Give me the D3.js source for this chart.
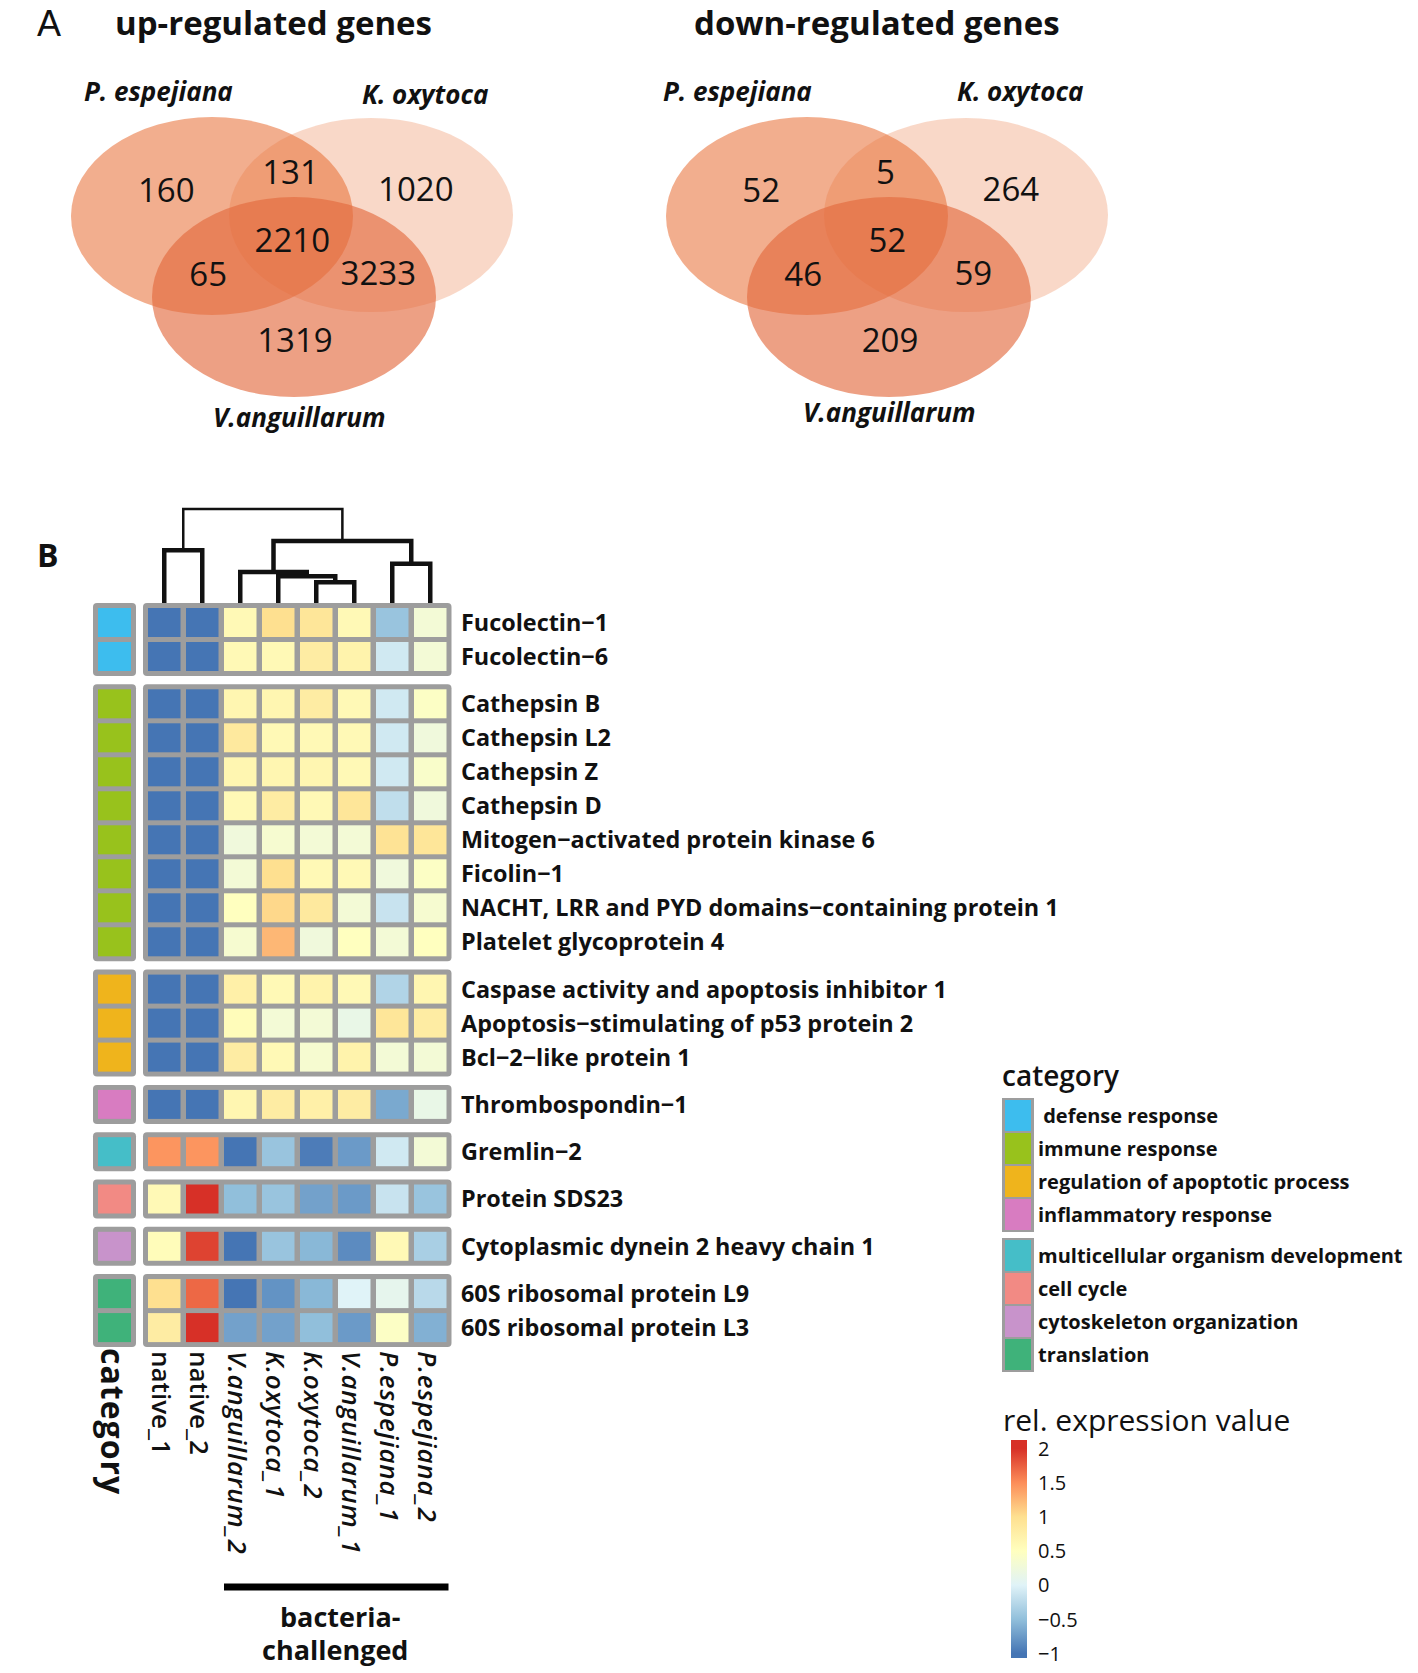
<!DOCTYPE html>
<html>
<head>
<meta charset="utf-8">
<script src="https://cdn.jsdelivr.net/npm/d3@7"></script>
<style>
  body { margin: 0; background: #fff; }
  text { font-family: "Open Sans", "Noto Sans", sans-serif; fill: #111; }
</style>
</head>
<body>
<svg id="fig" width="1418" height="1673"></svg>
<script>
// ---------- panel A : Venn counts ----------
const vennSets = ["P. espejiana", "K. oxytoca", "V.anguillarum"];
// region membership [P, K, V]
const vennRegions = [[1,0,0], [1,1,0], [0,1,0], [1,1,1], [1,0,1], [0,1,1], [0,0,1]];
const upCounts   = [160, 131, 1020, 2210, 65, 3233, 1319];
const downCounts = [52, 5, 264, 52, 46, 59, 209];

// ---------- panel B : heatmap ----------
const samples = ["native_1", "native_2", "V.anguillarum_2", "K.oxytoca_1", "K.oxytoca_2",
                 "V.anguillarum_1", "P.espejiana_1", "P.espejiana_2"];
const sampleItalic = [false, false, true, true, true, true, true, true];

const genes = [
  "Fucolectin\u22121", "Fucolectin\u22126",
  "Cathepsin B", "Cathepsin L2", "Cathepsin Z", "Cathepsin D",
  "Mitogen\u2212activated protein kinase 6", "Ficolin\u22121",
  "NACHT, LRR and PYD domains\u2212containing protein 1", "Platelet glycoprotein 4",
  "Caspase activity and apoptosis inhibitor 1", "Apoptosis\u2212stimulating of p53 protein 2",
  "Bcl\u22122\u2212like protein 1",
  "Thrombospondin\u22121", "Gremlin\u22122", "Protein SDS23",
  "Cytoplasmic dynein 2 heavy chain 1",
  "60S ribosomal protein L9", "60S ribosomal protein L3"
];
const geneCategory = [0, 0, 1, 1, 1, 1, 1, 1, 1, 1, 2, 2, 2, 3, 4, 5, 6, 7, 7];

const categories = [" defense response", "immune response", "regulation of apoptotic process",
  "inflammatory response", "multicellular organism development", "cell cycle",
  "cytoskeleton organization", "translation"];
const categoryColors = ["#3dbdee", "#98c21c", "#efb41c", "#d87cc1", "#45bec8", "#f28a84", "#c893cb", "#3fb27a"];
const legendBlock = [0, 0, 0, 0, 1, 1, 1, 1];

// relative expression, rows = genes, columns = samples
const expr = [
  [-1, -1, 0.60, 1.00, 0.90, 0.60, -0.45, 0.30],
  [-1, -1, 0.60, 0.60, 0.80, 0.70, -0.10, 0.30],
  [-1, -1, 0.65, 0.65, 0.80, 0.60, -0.10, 0.45],
  [-1, -1, 0.85, 0.60, 0.60, 0.60, -0.10, 0.25],
  [-1, -1, 0.65, 0.65, 0.65, 0.60, -0.10, 0.40],
  [-1, -1, 0.60, 0.80, 0.60, 0.90, -0.20, 0.25],
  [-1, -1, 0.25, 0.35, 0.30, 0.30, 0.95, 0.90],
  [-1, -1, 0.30, 1.00, 0.60, 0.60, 0.25, 0.45],
  [-1, -1, 0.50, 1.05, 0.85, 0.30, -0.15, 0.35],
  [-1, -1, 0.35, 1.25, 0.25, 0.50, 0.30, 0.50],
  [-1, -1, 0.75, 0.60, 0.70, 0.60, -0.30, 0.65],
  [-1, -1, 0.55, 0.30, 0.30, 0.15, 0.90, 0.80],
  [-1, -1, 0.80, 0.60, 0.35, 0.70, 0.30, 0.30],
  [-1, -1, 0.65, 0.80, 0.75, 0.80, -0.65, 0.15],
  [1.45, 1.45, -1, -0.45, -0.95, -0.75, -0.10, 0.30],
  [0.60, 2.00, -0.50, -0.45, -0.70, -0.75, -0.15, -0.45],
  [0.55, 1.90, -1, -0.45, -0.55, -0.85, 0.60, -0.35],
  [1.00, 1.70, -1, -0.80, -0.55, 0.00, 0.10, -0.25],
  [0.80, 2.00, -0.70, -0.70, -0.50, -0.75, 0.45, -0.60]
];

// column dendrogram, hclust style: negative = sample, positive = earlier merge
const mergePairs   = [[-5, -6], [-4, 1], [-3, 2], [-7, -8], [-1, -2], [3, 4], [5, 6]];
const mergeHeights = [2.0, 2.6, 3.0, 3.8, 5.1, 6.0, 9.1];

const paletteValues = [-1, -0.5, 0, 0.5, 1, 1.5, 2];
const paletteColors = ["#4575b4", "#91bfdb", "#e0f3f8", "#ffffbf", "#fee090", "#fc8d59", "#d73027"];
const legendTicks = [2, 1.5, 1, 0.5, 0, -0.5, -1];

// ====================================================
const svg = d3.select("#fig");
svg.append("rect").attr("width", 1418).attr("height", 1673).attr("fill", "#fff");

// ---------- Venn diagrams ----------
svg.append("text").attr("x", 37).attr("y", 36)
  .style("font-family", "'Liberation Sans', sans-serif")
  .style("font-size", "36px").text("A");

function drawVenn(cx0, counts, title, titleX, labelPos) {
  const g = svg.append("g");
  const ells = [
    { cx: cx0 - 82, cy: 216, rx: 141, ry: 99,  fill: "#e86e35", op: 0.56 },
    { cx: cx0 + 77, cy: 215, rx: 142, ry: 97,  fill: "#e86e35", op: 0.27 },
    { cx: cx0,      cy: 297, rx: 142, ry: 100, fill: "#e2683c", op: 0.63 }
  ];
  g.selectAll("ellipse").data(ells).enter().append("ellipse")
    .attr("cx", d => d.cx).attr("cy", d => d.cy)
    .attr("rx", d => d.rx).attr("ry", d => d.ry)
    .attr("fill", d => d.fill).attr("fill-opacity", d => d.op);

  // label each region: mean of member centres pushed away from the others
  g.selectAll("text.count").data(vennRegions).enter().append("text")
    .attr("class", "count")
    .attr("x", m => regionPos(ells, m)[0])
    .attr("y", m => regionPos(ells, m)[1] - 3)
    .attr("dy", "0.36em")
    .attr("text-anchor", "middle")
    .style("font-size", "33px")
    .text((m, i) => counts[i]);

  g.append("text").attr("x", titleX).attr("y", 35)
    .style("font-size", "33px").style("font-weight", 700).text(title);

  vennSets.forEach((s, i) => {
    g.append("text").attr("x", labelPos[i][0]).attr("y", labelPos[i][1])
      .style("font-size", "26px").style("font-weight", 700).style("font-style", "italic")
      .text(s);
  });
}

function regionPos(ells, m) {
  const inn = ells.filter((e, i) => m[i]);
  const out = ells.filter((e, i) => !m[i]);
  const mx = d3.mean(inn, e => e.cx), my = d3.mean(inn, e => e.cy);
  if (!out.length) return [mx, my];
  const kx = 0.38, ky = inn.length === 1 ? 0.56 : 0.5;
  const ox = d3.mean(out, e => e.cx), oy = d3.mean(out, e => e.cy);
  return [mx + kx * (mx - ox), my + ky * (my - oy)];
}

drawVenn(294, upCounts, "up-regulated genes", 115, [[84, 101], [362, 104], [213, 427]]);
drawVenn(889, downCounts, "down-regulated genes", 694, [[663, 101], [957, 101], [803, 422]]);

// ---------- heatmap ----------
svg.append("text").attr("x", 37).attr("y", 567)
  .style("font-size", "32px").style("font-weight", 700).text("B");

const x = d3.scaleBand().domain(samples).range([145.25, 449.25])
  .paddingInner(5.5 / 38).paddingOuter(2.75 / 38);
const bw = x.bandwidth();

const rowStep = 34, groupGap = 13.3;
const yb = d3.scaleBand().domain(genes).range([605.5, 605.5 + genes.length * rowStep])
  .paddingInner(5 / rowStep).paddingOuter(2.5 / rowStep);
const bh = yb.bandwidth();

const rowGroup = [];
genes.forEach((d, i) => {
  rowGroup.push(i === 0 ? 0 : rowGroup[i - 1] + (geneCategory[i] !== geneCategory[i - 1] ? 1 : 0));
});
const rowY = i => yb(genes[i]) + rowGroup[i] * groupGap;

const color = d3.scaleLinear().domain(paletteValues).range(paletteColors).clamp(true);

// group boxes
const groups = d3.groups(genes.map((d, i) => i), i => rowGroup[i]);
const hm = svg.append("g");
groups.forEach(([gi, idx]) => {
  const top = rowY(idx[0]) - 5;
  const bot = rowY(idx[idx.length - 1]) + bh + 5;
  hm.append("rect").attr("x", x(samples[0]) - 5).attr("y", top)
    .attr("width", x(samples[samples.length - 1]) + bw + 5 - (x(samples[0]) - 5))
    .attr("height", bot - top).attr("rx", 4).attr("fill", "#9d9d9d");
  hm.append("rect").attr("x", 93).attr("y", top)
    .attr("width", 43).attr("height", bot - top).attr("rx", 4).attr("fill", "#9d9d9d");
});

// cells
const cells = [];
expr.forEach((row, i) => row.forEach((v, j) => cells.push({ i, j, v })));
hm.selectAll("rect.cell").data(cells).enter().append("rect")
  .attr("class", "cell")
  .attr("x", d => x(samples[d.j])).attr("y", d => rowY(d.i))
  .attr("width", bw).attr("height", bh)
  .attr("fill", d => color(d.v));

// category annotation column
hm.selectAll("rect.cat").data(genes).enter().append("rect")
  .attr("class", "cat")
  .attr("x", 98).attr("y", (d, i) => rowY(i))
  .attr("width", 33).attr("height", bh)
  .attr("fill", (d, i) => categoryColors[geneCategory[i]]);

// gene labels
hm.selectAll("text.gene").data(genes).enter().append("text")
  .attr("class", "gene")
  .attr("x", 461).attr("y", (d, i) => rowY(i) + bh / 2).attr("dy", "0.36em")
  .style("font-size", "23.4px").style("font-weight", 700)
  .text(d => d);

// sample labels (rotated)
hm.selectAll("text.sample").data(samples).enter().append("text")
  .attr("class", "sample")
  .attr("transform", d => `translate(${x(d) + bw / 2 - 12},1351) rotate(90)`)
  .style("font-size", "26px").style("font-weight", 600)
  .style("font-style", (d, i) => sampleItalic[i] ? "italic" : "normal")
  .style("letter-spacing", (d, i) => sampleItalic[i] ? "0.8px" : "0px")
  .text(d => d);

svg.append("text").attr("transform", "translate(101,1348) rotate(90)")
  .style("font-size", "32px").style("font-weight", 700).style("letter-spacing", "1px")
  .text("category");

// bacteria-challenged bar
const bx0 = x(samples[2]), bx1 = x(samples[7]) + bw;
svg.append("line").attr("x1", bx0).attr("x2", bx1 + 2).attr("y1", 1587).attr("y2", 1587)
  .attr("stroke", "#000").attr("stroke-width", 7);
svg.append("text").attr("x", (bx0 + bx1) / 2 + 5).attr("y", 1627).attr("text-anchor", "middle")
  .style("font-size", "27px").style("font-weight", 700).text("bacteria-");
svg.append("text").attr("x", (bx0 + bx1) / 2).attr("y", 1660).attr("text-anchor", "middle")
  .style("font-size", "27px").style("font-weight", 700).text("challenged");

// dendrogram
const yd = d3.scaleLinear().domain([0, d3.max(mergeHeights)]).range([603, 509]);
function nodeX(id) {
  if (id < 0) return x(samples[-id - 1]) + bw / 2;
  const [a, b] = mergePairs[id - 1];
  return (nodeX(a) + nodeX(b)) / 2;
}
function nodeY(id) { return id < 0 ? yd(0) : yd(mergeHeights[id - 1]); }
const dg = svg.append("g").attr("fill", "none").attr("stroke", "#111");
dg.selectAll("path").data(mergePairs).enter().append("path")
  .attr("d", (p, k) => {
    const h = yd(mergeHeights[k]);
    return `M${nodeX(p[0])},${nodeY(p[0])}V${h}H${nodeX(p[1])}V${nodeY(p[1])}`;
  })
  .attr("stroke-width", (p, k) => k === mergePairs.length - 1 ? 2.5 : 4.5)
  .attr("stroke-linejoin", "miter");

// ---------- category legend ----------
svg.append("text").attr("x", 1002).attr("y", 1086)
  .style("font-size", "28px").style("font-weight", 600).text("category");
const legY = (i) => 1100 + i * 33 + legendBlock[i] * 8;
d3.groups(categories.map((d, i) => i), i => legendBlock[i]).forEach(([b, idx]) => {
  const top = legY(idx[0]) - 2, bot = legY(idx[idx.length - 1]) + 31 + 2;
  svg.append("rect").attr("x", 1002).attr("y", top).attr("width", 32).attr("height", bot - top)
    .attr("fill", "#9d9d9d");
});
svg.selectAll("rect.leg").data(categories).enter().append("rect")
  .attr("class", "leg")
  .attr("x", 1005).attr("y", (d, i) => legY(i)).attr("width", 26).attr("height", 31)
  .attr("fill", (d, i) => categoryColors[i]);
svg.selectAll("text.leg").data(categories).enter().append("text")
  .attr("class", "leg")
  .attr("x", 1038).attr("y", (d, i) => legY(i) + 15.5).attr("dy", "0.36em")
  .style("font-size", "20px").style("font-weight", 700)
  .style("white-space", "pre").attr("xml:space", "preserve")
  .text(d => d);

// ---------- colour legend ----------
svg.append("text").attr("x", 1003).attr("y", 1431)
  .style("font-size", "30px").text("rel. expression value");
const ly = d3.scaleLinear().domain([-1, 2]).range([1653.5, 1448.5]);
const barTop = 1440, barBot = 1658;
const grad = svg.append("defs").append("linearGradient").attr("id", "cbar")
  .attr("x1", 0).attr("y1", 1).attr("x2", 0).attr("y2", 0);
paletteValues.forEach((v, i) => {
  grad.append("stop").attr("offset", (barBot - ly(v)) / (barBot - barTop)).attr("stop-color", paletteColors[i]);
});
svg.append("rect").attr("x", 1011).attr("y", barTop).attr("width", 16).attr("height", barBot - barTop)
  .attr("fill", "url(#cbar)");
svg.selectAll("text.tick").data(legendTicks).enter().append("text")
  .attr("class", "tick")
  .attr("x", 1038).attr("y", d => ly(d)).attr("dy", "0.36em")
  .style("font-size", "20px")
  .text(d => (d < 0 ? "\u2212" : "") + Math.abs(d));
</script>
</body>
</html>
